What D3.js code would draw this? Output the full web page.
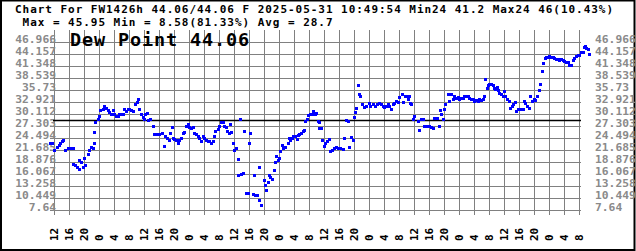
<!DOCTYPE html>
<html>
<head>
<meta charset="utf-8">
<script src="https://cdn.jsdelivr.net/npm/d3@7"></script>
<style>
  body { margin: 0; background: #fff; }
  svg { display: block; }
</style>
</head>
<body>
<div id="chart"></div>
<script>

// station header text
const titleLines = [
	"Chart For FW1426h 44.06/44.06 F 2025-05-31 10:49:54 Min24 41.2 Max24 46(10.43%)",
	" Max = 45.95 Min = 8.58(81.33%) Avg = 28.7"
];
const bigLabel = "Dew Point 44.06";
const avgValue = 28.7;

// y grid labels (as printed on the chart)
const yTickLabels = ["46.966", "44.157", "41.348", "38.539", "35.73", "32.921", "30.112",
	"27.303", "24.494", "21.685", "18.876", "16.067", "13.258", "10.449", "7.64"];

// time window: 2025-05-25 10:49:54 -> 2025-05-31 10:49:54
const startTime = new Date(2025, 4, 25, 10, 49, 54);
const endTime = new Date(2025, 4, 31, 10, 49, 54);
// readings are hours after 2025-05-25 12:00
const baseTime = new Date(2025, 4, 25, 12, 0, 0);

const hours = [
	-0.9, -0.3, 0.27, 0.89, 1.42, 1.87, 2.31, 2.67, 3.2, 3.82,
	4.44, 5.16, 5.33, 5.87, 6.31, 6.76, 6.93, 7.38, 7.82, 8.09,
	8.53, 9.16, 9.42, 10.04, 10.49, 10.76, 10.93, 11.2, 11.82, 12.27,
	12.53, 13.16, 13.6, 14.04, 14.49, 14.93, 15.38, 15.82, 16.27, 16.71,
	17.16, 17.6, 18.04, 18.49, 18.93, 19.38, 19.82, 20.27, 20.71, 21.33,
	21.87, 22.31, 22.67, 22.93, 23.38, 23.82, 24.09, 24.53, 24.89, 25.33,
	25.78, 26.49, 26.93, 27.56, 28.27, 28.98, 29.42, 29.87, 30.31, 30.76,
	31.11, 31.56, 31.82, 32.27, 32.71, 33.16, 33.6, 34.04, 34.49, 34.93,
	35.38, 35.82, 36.27, 36.71, 37.16, 37.6, 38.04, 38.49, 38.93, 39.38,
	39.82, 40.27, 40.71, 41.16, 41.6, 42.04, 42.49, 42.93, 43.2, 43.82,
	44.27, 44.71, 45.16, 45.6, 46.04, 46.31, 46.76, 47.11, 47.38, 47.82,
	48.09, 48.71, 49.33, 49.33, 49.87, 50.04, 50.49, 50.93, 51.38, 51.82,
	52.09, 52.44, 53.16, 53.42, 53.69, 54.22, 54.76, 54.93, 55.38, 56.09,
	56.44, 56.71, 57.16, 57.42, 57.78, 58.31, 58.76, 59.02, 59.38, 59.82,
	60.09, 60.53, 60.98, 61.33, 61.87, 62.49, 62.76, 63.2, 63.64, 64.0,
	64.53, 64.89, 65.24, 65.6, 66.04, 66.49, 66.93, 67.2, 67.56, 68.0,
	68.44, 68.89, 69.33, 69.69, 70.04, 70.49, 70.76, 70.93, 71.29, 71.64,
	72.09, 72.53, 72.98, 73.6, 73.87, 74.31, 74.76, 75.38, 75.82, 76.44,
	77.16, 77.6, 78.04, 78.58, 78.93, 79.29, 79.82, 80.09, 80.44, 80.71,
	81.16, 81.42, 81.78, 82.31, 82.76, 83.38, 84.09, 84.53, 85.16, 85.69,
	86.22, 86.76, 87.38, 87.82, 88.27, 88.71, 89.16, 89.6, 90.04, 90.49,
	90.93, 91.38, 91.82, 92.27, 92.98, 93.33, 93.69, 94.22, 94.58, 94.76,
	95.11, 95.47, 95.82, 96.18, 97.16, 97.42, 98.04, 98.49, 98.93, 99.38,
	99.82, 100.27, 100.71, 101.16, 101.42, 101.87, 102.22, 102.76, 103.11, 103.38,
	103.82, 104.09, 104.53, 105.16, 105.6, 106.04, 106.49, 106.93, 107.38, 107.82,
	108.27, 108.71, 109.16, 109.6, 110.04, 110.49, 110.93, 111.38, 111.82, 112.27,
	112.71, 113.16, 113.6, 114.04, 114.49, 114.76, 115.2, 115.56, 115.82, 116.27,
	116.71, 117.16, 117.42, 117.87, 118.22, 118.67, 118.93, 119.38, 119.82, 120.09,
	120.53, 120.89, 121.42, 121.78, 122.22, 122.67, 123.02, 123.38, 123.82, 124.27,
	124.71, 125.16, 125.42, 125.87, 126.31, 126.76, 127.11, 127.64, 128.09, 128.53,
	128.98, 129.42, 129.78, 130.31, 130.67, 131.11, 131.38, 131.82, 132.27, 132.71,
	133.16, 133.6, 134.04, 134.49, 134.93, 135.38, 135.82, 136.27, 136.71, 137.16,
	137.6, 138.04, 138.49, 138.93, 139.38, 139.82, 140.27, 140.71, 141.16, 141.6,
	141.87, 142.1, 142.45, 142.8
];

const dewPoint = [
	23.2, 23.3, 21.68, 22.23, 22.77, 23.24, 23.63, 24.02, 21.68, 21.92,
	22.07, 21.92, 18.33, 17.94, 17.55, 17.16, 19.19, 18.72, 17.63, 19.73,
	18.17, 20.67, 21.68, 22.31, 21.92, 23.24, 25.82, 28.16, 28.86, 29.49,
	30.89, 31.2, 31.83, 31.44, 30.89, 30.42, 30.11, 30.89, 29.88, 29.64,
	29.64, 29.88, 30.11, 29.88, 31.2, 30.66, 31.05, 31.2, 30.89, 30.66,
	32.45, 32.84, 33.54, 31.2, 30.03, 29.33, 28.71, 29.88, 30.27, 28.55,
	28.71, 27.3, 25.2, 25.2, 25.35, 25.58, 22.46, 24.8, 24.41, 24.02,
	25.58, 26.99, 24.41, 24.18, 24.02, 23.09, 24.02, 24.41, 25.58, 25.74,
	27.15, 27.77, 26.99, 26.76, 26.99, 25.58, 25.2, 24.8, 24.41, 23.63,
	24.8, 24.41, 23.87, 23.63, 23.63, 23.24, 23.63, 24.8, 26.13, 26.52,
	27.15, 28.08, 28.16, 27.3, 26.91, 25.97, 25.58, 27.54, 25.74, 23.24,
	21.68, 21.92, 19.5, 15.83, 28.71, 15.99, 16.22, 26.13, 11.54, 11.54,
	23.09, 25.58, 11.38, 15.6, 11.15, 10.92, 9.98, 17.63, 8.58, 14.43,
	13.49, 12.16, 14.04, 15.75, 15.28, 14.82, 17.0, 18.87, 20.28, 19.34,
	19.81, 21.37, 22.77, 22.15, 22.31, 23.24, 24.26, 23.87, 24.49, 24.8,
	24.96, 24.18, 25.12, 25.43, 25.58, 26.05, 26.36, 28.32, 28.71, 29.8,
	29.88, 30.03, 30.66, 29.88, 30.27, 28.32, 26.76, 28.16, 26.76, 24.02,
	22.62, 23.09, 23.63, 24.18, 21.45, 21.68, 21.99, 22.31, 22.15, 22.07,
	21.84, 24.41, 28.55, 28.32, 22.31, 24.65, 23.87, 29.33, 30.5, 31.44,
	36.9, 34.71, 34.17, 32.22, 31.67, 31.98, 32.61, 31.83, 32.37, 31.98,
	32.45, 32.61, 32.22, 31.98, 31.67, 31.98, 32.22, 31.98, 31.2, 32.22,
	32.61, 33.0, 32.76, 34.01, 34.56, 32.92, 34.32, 34.32, 33.39, 34.32,
	32.61, 32.22, 28.94, 29.49, 28.32, 26.36, 28.86, 28.86, 27.3, 27.3,
	27.15, 27.15, 26.99, 26.76, 29.09, 29.09, 29.09, 27.3, 30.89, 30.11,
	28.71, 31.2, 32.45, 34.56, 33.0, 34.79, 33.39, 34.17, 33.78, 34.01,
	33.54, 33.78, 33.78, 34.32, 34.32, 34.32, 33.78, 33.39, 33.54, 33.0,
	33.23, 33.0, 33.39, 33.23, 33.39, 34.32, 38.22, 36.12, 36.9, 37.13,
	37.13, 36.9, 36.12, 35.88, 36.35, 35.73, 34.95, 34.56, 34.17, 35.34,
	34.17, 33.39, 33.0, 31.44, 31.98, 32.45, 32.76, 30.66, 31.05, 31.2,
	31.2, 31.05, 33.0, 32.61, 31.98, 31.44, 34.17, 33.0, 33.39, 33.23,
	34.32, 35.73, 37.13, 40.02, 41.97, 43.14, 43.38, 43.38, 43.53, 43.38,
	43.38, 43.14, 42.91, 42.91, 42.75, 42.91, 42.6, 42.36, 42.13, 42.13,
	41.58, 41.35, 42.75, 43.14, 43.53, 43.69, 43.69, 44.47, 44.47, 45.7,
	45.95, 45.48, 45.25, 44.06
];

const width = 636;
const height = 251;

// pair each reading with its timestamp
const data = d3.zip(hours, dewPoint)
	.map((d) => [new Date(baseTime.getTime() + d[0] * 3600e3), d[1]]);

const xScale = d3.scaleTime()
	.domain([startTime, endTime])
	.range([49.5, 589.5]);
const yScale = d3.scaleLinear()
	.domain([+yTickLabels[yTickLabels.length - 1], +yTickLabels[0]])
	.range([210, 42]);

const svg = d3.select("#chart")
	.append("svg")
	.attr("width", width)
	.attr("height", height)
	.style("font-family", "'DejaVu Sans Mono', monospace");

// outer frame
svg.append("rect")
	.attr("x", 1).attr("y", 0.5)
	.attr("width", width - 2.5).attr("height", height - 1.5)
	.attr("fill", "none")
	.attr("stroke", "#000")
	.attr("stroke-width", 2);

// vertical grid + hour labels (every 4 hours)
const xAxis = svg.append("g")
	.attr("transform", "translate(0, 215)")
	.call(d3.axisBottom(xScale)
		.ticks(d3.timeHour.every(4))
		.tickSize(-185)
		.tickFormat(d3.timeFormat("%-H")));
xAxis.select(".domain").remove();
xAxis.selectAll("line")
	.attr("stroke", "#808080")
	.attr("shape-rendering", "crispEdges");
xAxis.selectAll("text")
	.attr("transform", "translate(4, 26) rotate(-90)")
	.attr("x", 0).attr("y", 0).attr("dy", 0)
	.attr("text-anchor", "start")
	.attr("fill", "#000")
	.attr("font-weight", "bold")
	.attr("font-size", "11px")
	.attr("font-family", "'DejaVu Sans Mono', monospace");

// horizontal grid
const yAxis = svg.append("g")
	.attr("transform", "translate(50, 0)")
	.call(d3.axisLeft(yScale)
		.tickValues(yTickLabels.map(Number))
		.tickSize(-531)
		.tickFormat(""));
yAxis.select(".domain").remove();
yAxis.selectAll("line")
	.attr("stroke", "#808080")
	.attr("shape-rendering", "crispEdges");

// y labels on both sides, sitting on their grid line
const labelStyle = (sel) => sel
	.attr("fill", "#8a8a8a")
	.attr("font-size", "11.3px")
	.attr("font-weight", "bold");

svg.append("g").selectAll("text").data(yTickLabels).enter()
	.append("text")
		.attr("x", 56)
		.attr("y", (d) => Math.round(yScale(+d)) + 1)
		.attr("text-anchor", "end")
		.text((d) => d)
		.call(labelStyle);

svg.append("g").selectAll("text").data(yTickLabels).enter()
	.append("text")
		.attr("x", 595)
		.attr("y", (d) => Math.round(yScale(+d)) + 1)
		.text((d) => d)
		.call(labelStyle);

// average line
svg.append("line")
	.attr("x1", 53).attr("x2", 581)
	.attr("y1", Math.round(yScale(avgValue)) + 0.5)
	.attr("y2", Math.round(yScale(avgValue)) + 0.5)
	.attr("stroke", "#000")
	.attr("stroke-width", 1.3);

// readings as small blue squares
svg.append("g").selectAll("rect").data(data).enter()
	.append("rect")
		.attr("x", (d) => Math.round(xScale(d[0]) - 1.5))
		.attr("y", (d) => Math.round(yScale(d[1]) - 1.5))
		.attr("width", 3)
		.attr("height", 3)
		.attr("fill", "#0000ff");

// header (smaller glyphs, widened with letter spacing so lines don't collide)
svg.append("g").selectAll("text").data(titleLines).enter()
	.append("text")
		.attr("x", 15)
		.attr("y", (d, i) => 13 + i * 13)
		.attr("font-size", "11px")
		.attr("letter-spacing", "0.96px")
		.attr("font-weight", "bold")
		.attr("fill", "#000")
		.style("white-space", "pre")
		.text((d) => d);

svg.append("text")
	.attr("x", 70)
	.attr("y", 46)
	.attr("font-size", "18.5px")
	.attr("letter-spacing", "0.86px")
	.attr("font-weight", "bold")
	.attr("fill", "#000")
	.text(bigLabel);

</script>
</body>
</html>
